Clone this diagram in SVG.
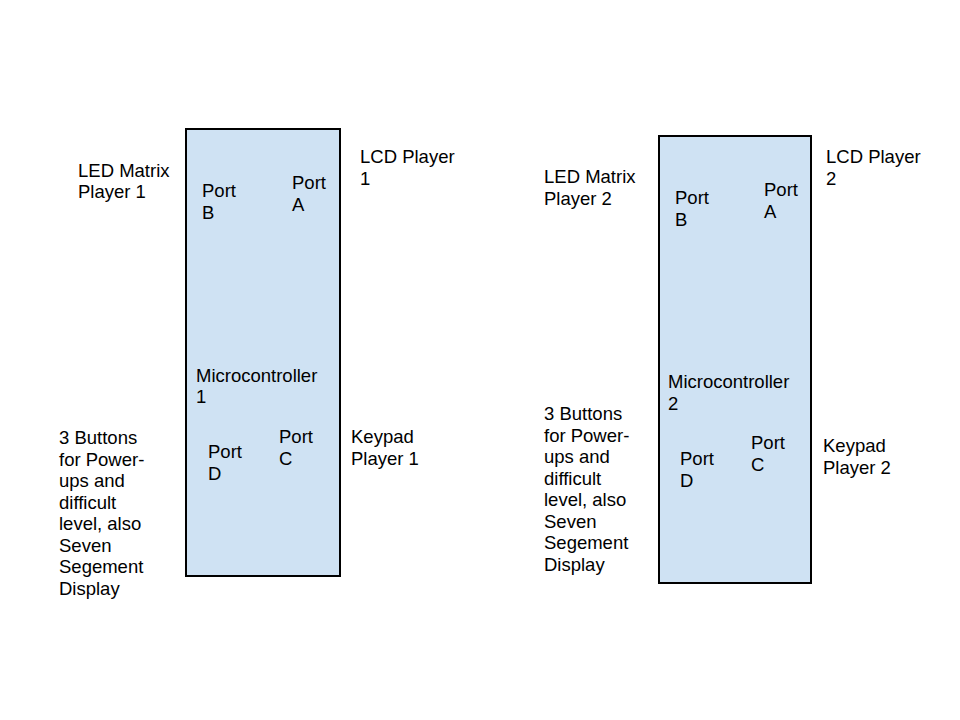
<svg xmlns="http://www.w3.org/2000/svg" width="960" height="720" viewBox="0 0 960 720">
<style>
.box{fill:#cfe2f3;stroke:#000;stroke-width:2}
text{font-family:"Liberation Sans",Arial,sans-serif;font-size:18.5px;fill:#000}
</style>
<rect width="960" height="720" fill="#fff"/>
<g id="mcu1">
<rect class="box" x="186" y="129" width="154" height="447"/>
<text x="202" y="197">Port<tspan x="202" y="219">B</tspan></text>
<text x="292" y="189">Port<tspan x="292" y="211">A</tspan></text>
<text x="196" y="382">Microcontroller<tspan x="196" y="403">1</tspan></text>
<text x="208" y="458">Port<tspan x="208" y="480">D</tspan></text>
<text x="279" y="443">Port<tspan x="279" y="465">C</tspan></text>
</g>
<g id="led1"><text x="78" y="177">LED Matrix<tspan x="78" y="198">Player 1</tspan></text></g>
<g id="lcd1"><text x="360" y="163">LCD Player<tspan x="360" y="185">1</tspan></text></g>
<g id="keypad1"><text x="351" y="443">Keypad<tspan x="351" y="465">Player 1</tspan></text></g>
<g id="buttons1"><text x="59" y="444">3 Buttons<tspan x="59" y="465.5">for Power-</tspan><tspan x="59" y="487">ups and</tspan><tspan x="59" y="508.5">difficult</tspan><tspan x="59" y="530">level, also</tspan><tspan x="59" y="551.5">Seven</tspan><tspan x="59" y="573">Segement</tspan><tspan x="59" y="594.5">Display</tspan></text></g>
<g id="mcu2">
<rect class="box" x="659" y="136" width="152" height="447"/>
<text x="675" y="204">Port<tspan x="675" y="226">B</tspan></text>
<text x="764" y="196">Port<tspan x="764" y="218">A</tspan></text>
<text x="668" y="388">Microcontroller<tspan x="668" y="410">2</tspan></text>
<text x="680" y="465">Port<tspan x="680" y="487">D</tspan></text>
<text x="751" y="449">Port<tspan x="751" y="471">C</tspan></text>
</g>
<g id="led2"><text x="544" y="183">LED Matrix<tspan x="544" y="205">Player 2</tspan></text></g>
<g id="lcd2"><text x="826" y="163">LCD Player<tspan x="826" y="185">2</tspan></text></g>
<g id="keypad2"><text x="823" y="452">Keypad<tspan x="823" y="474">Player 2</tspan></text></g>
<g id="buttons2"><text x="544" y="420">3 Buttons<tspan x="544" y="441.5">for Power-</tspan><tspan x="544" y="463">ups and</tspan><tspan x="544" y="484.5">difficult</tspan><tspan x="544" y="506">level, also</tspan><tspan x="544" y="527.5">Seven</tspan><tspan x="544" y="549">Segement</tspan><tspan x="544" y="570.5">Display</tspan></text></g>
<g id="connectors"></g>
</svg>
